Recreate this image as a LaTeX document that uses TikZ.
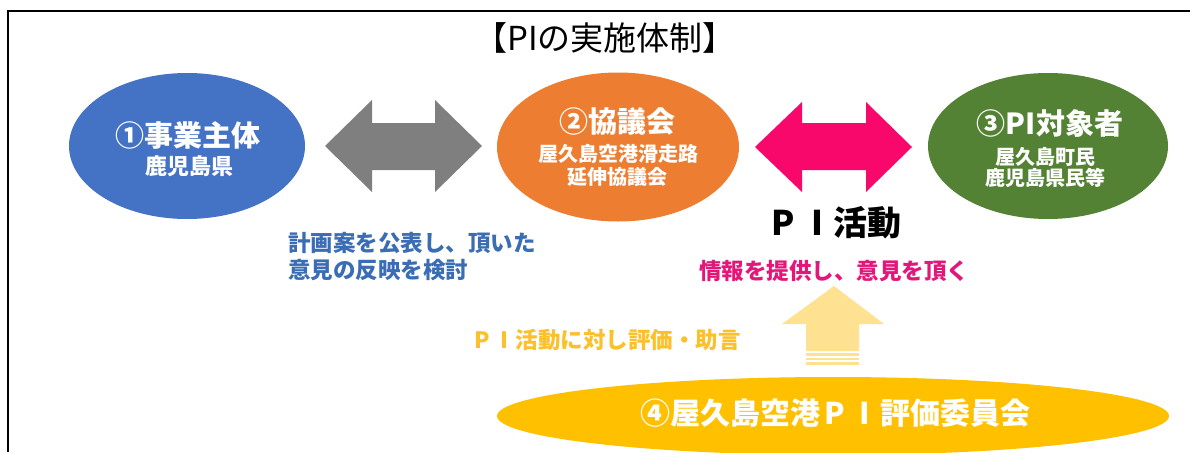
\documentclass[tikz,border=0pt]{standalone}
\usepackage{fontspec}
\setmainfont{Noto Sans CJK JP}
\usetikzlibrary{shapes.geometric}
\definecolor{blueE}{HTML}{4472C4}
\definecolor{orangeE}{HTML}{ED7D31}
\definecolor{greenE}{HTML}{548235}
\definecolor{grayA}{HTML}{7F7F7F}
\definecolor{magA}{HTML}{F7086A}
\definecolor{blueT}{HTML}{3A6DB5}
\definecolor{magT}{HTML}{E3177A}
\definecolor{yellowT}{HTML}{FBC02A}
\definecolor{yellowA}{HTML}{FFE291}
\definecolor{yellowE}{HTML}{FFC000}
\newcommand\fwPI{\makebox[1em]{P}\makebox[1em]{I}}
\tikzset{
  ell/.style={ellipse, draw=none, inner sep=0pt},
  big/.style={text=white, font=\fontsize{29}{33}\selectfont\bfseries, inner sep=0pt},
  small/.style={text=white, font=\fontsize{20}{24}\selectfont\bfseries, inner sep=0pt},
  note/.style={font=\fontsize{22.5}{26}\selectfont\bfseries, inner sep=0pt},
}
\begin{document}
\begin{tikzpicture}[x=1pt,y=-1pt]
\useasboundingbox (0,0) rectangle (1190,452);
\fill[white] (0,0) rectangle (1190,452);
% frame
\begin{scope}
\clip (0,0) rectangle (1190,452);
\draw[line width=2.6pt] (8,452) -- (8,11) -- (1195,11);
\end{scope}
% title
\node[inner sep=0pt, font=\fontsize{33}{37}\selectfont] (title) at (605,38) {【PIの実施体制】};
% ellipses
\node[ell, fill=blueE, minimum width=236, minimum height=146] (e1) at (187,146) {};
\node[ell, fill=orangeE, minimum width=242, minimum height=149] (e2) at (618,147) {};
\node[ell, fill=greenE, minimum width=240, minimum height=146] (e3) at (1048,146) {};
% ellipse texts
\node[big] (e1a) at (187.5,135) {①事業主体};
\node[small, font=\fontsize{22}{26}\selectfont\bfseries] (e1b) at (189,166) {鹿児島県};
\node[big] (e2a) at (617,122) {②協議会};
\node[small] (e2b) at (618,154) {屋久島空港滑走路};
\node[small] (e2c) at (617,177) {延伸協議会};
\node[big] (e3a) at (1050,123) {③PI対象者};
\node[small] (e3b) at (1045,157) {屋久島町民};
\node[small] (e3c) at (1045,178) {鹿児島県民等};
% double arrows between ellipses
\fill[grayA] (325,146) -- (372,100) -- (372,123) -- (435,123) -- (435,100) -- (482,146)
  -- (435,192) -- (435,170) -- (372,170) -- (372,192) -- cycle;
\fill[magA] (755,147) -- (802,102) -- (802,123) -- (866,123) -- (866,102) -- (912,147)
  -- (866,192) -- (866,170) -- (802,170) -- (802,192) -- cycle;
% labels
\node[inner sep=0pt, font=\fontsize{34}{38}\selectfont\bfseries] (pi) at (834,223) {\fwPI 活動};
\node[note, text=blueT, anchor=west] (bl1) at (288,243) {計画案を公表し、頂いた};
\node[note, text=blueT, anchor=west] (bl2) at (288,270) {意見の反映を検討};
\node[note, text=magT] (mg) at (834,271) {情報を提供し、意見を頂く};
\node[note, text=yellowT] (yl) at (606,340) {\fwPI 活動に対し評価・助言};
% up arrow (striped)
\fill[yellowA] (834,286) -- (884,324) -- (859,324) -- (859,351) -- (806,351) -- (806,324) -- (782,324) -- cycle;
\fill[yellowA] (806,353) rectangle (859,355.5);
\fill[yellowA] (806,357.5) rectangle (859,360);
\fill[yellowA] (806,362) rectangle (859,364.5);
% bottom ellipse
\begin{scope}
\clip (0,0) rectangle (1190,452);
\node[ell, fill=yellowE, minimum width=672, minimum height=78] (e4) at (833,416) {};
\end{scope}
\node[big, font=\fontsize{30}{34}\selectfont\bfseries] (e4a) at (835,413) {④屋久島空港\fwPI 評価委員会};
\end{tikzpicture}
\end{document}
